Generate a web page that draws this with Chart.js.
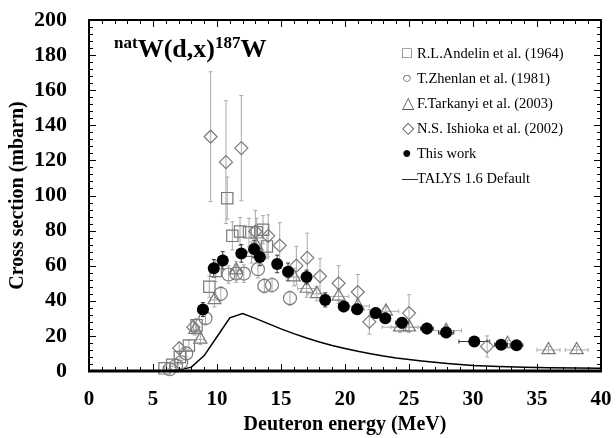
<!DOCTYPE html>
<html lang="en">
<head>
    <meta charset="UTF-8">
    <title>natW(d,x)187W cross section</title>
    <script src="https://cdn.jsdelivr.net/npm/chart.js"></script>
    <style>
        body { margin: 0; background: #fff; }
        .wrap { position: relative; width: 616px; height: 438px; font-family: 'Liberation Serif', 'Times New Roman', serif; }
        .reaction { position: absolute; left: 114px; top: 34px; font-weight: bold; font-size: 26px; }
        .reaction sup { font-size: 17px; vertical-align: 9px; line-height: 0; }
        .legend { position: absolute; left: 402px; top: 41px; font-size: 14.5px; white-space: nowrap; }
        .legend div { height: 25px; line-height: 25px; }
        .legend span.sym { display: inline-block; width: 15px; color: #555; font-size: 16px; line-height: 1; }
    </style>
</head>
<body>
    <div class="wrap">
        <canvas id="xsChart" width="616" height="438"></canvas>
        <div class="reaction"><sup>nat</sup>W(d,x)<sup>187</sup>W</div>
        <div class="legend">
            <div><span class="sym">□</span>R.L.Andelin et al. (1964)</div>
            <div><span class="sym">○</span>T.Zhenlan et al. (1981)</div>
            <div><span class="sym">△</span>F.Tarkanyi et al. (2003)</div>
            <div><span class="sym">◇</span>N.S. Ishioka et al. (2002)</div>
            <div><span class="sym" style="color:#000">●</span>This work</div>
            <div><span class="sym" style="color:#000">—</span>TALYS 1.6 Default</div>
        </div>
    </div>

    <script>
        // Andelin 1964
        const andelinE   = [5.9, 6.5, 7.1, 7.8, 8.4, 9.4, 9.9, 10.8, 11.2, 11.8, 12.5, 13.1, 13.6, 13.9];
        const andelinY   = [1.5, 3.5, 8, 14.5, 26, 48, 57, 98.5, 77, 79.5, 79, 79, 80.5, 71];
        const andelinErr = [1, 1, 2, 3, 4, 6, 6, 12, 8, 8, 8, 8, 8, 7];

        // Zhenlan 1981
        const zhenlanE   = [6.3, 6.8, 7.2, 7.6, 9.1, 10.3, 10.9, 11.5, 12.1, 13.2, 13.7, 14.3, 15.7];
        const zhenlanY   = [1, 3, 5, 10, 30, 44, 55, 55.5, 55.5, 58, 48.5, 49, 41.5];
        const zhenlanErr = [0.5, 1, 1, 2, 3, 4, 5, 5, 5, 5, 4, 4, 4];

        // Tarkanyi 2003
        const tarkanyiE    = [8.3, 8.7, 9.8, 11.5, 12.7, 13.1, 16.0, 17.0, 17.8, 19.5, 21.0, 23.2, 24.3, 25.0, 27.9, 32.7, 35.9, 38.1];
        const tarkanyiY    = [23.5, 18, 40.5, 57.5, 67.5, 71, 53.5, 47, 44, 42.5, 37, 34, 25, 25, 23, 15.5, 12, 12];
        const tarkanyiErr  = [3, 3, 4, 5, 6, 6, 5, 5, 4, 4, 4, 3, 3, 3, 3, 2, 2, 2];
        const tarkanyiErrE = [0.3, 0.3, 0.3, 0.4, 0.4, 0.4, 0.6, 0.7, 0.7, 0.8, 0.9, 1.0, 1.4, 1.4, 1.2, 1.0, 0.9, 0.9];

        // Ishioka 2002
        const ishiokaE   = [7.05, 8.15, 9.5, 10.7, 11.9, 13.0, 14.0, 14.9, 16.2, 17.05, 18.05, 19.5, 21.0, 21.9, 25.0, 31.1];
        const ishiokaY   = [13, 25, 133.5, 119, 127, 79.5, 77, 71.5, 60, 64.5, 54, 50, 45, 28, 33, 14];
        const ishiokaErr = [3, 4, 37, 35, 30, 12, 12, 13, 11, 14, 10, 10, 10, 7, 10.5, 6];

        // This work
        const thisE    = [8.9, 9.75, 10.45, 11.9, 12.9, 13.35, 14.7, 15.55, 17.0, 18.45, 19.9, 20.95, 22.4, 23.15, 24.45, 26.4, 27.9, 30.1, 32.2, 33.4];
        const thisY    = [35, 58.5, 63, 67, 69.5, 65, 61, 56.5, 53.5, 40.5, 36.8, 35.2, 33, 30, 27.5, 24.2, 22, 16.8, 14.9, 14.7];
        const thisErr  = [4, 5, 5, 5, 5, 5, 5, 5, 4, 4, 3, 3, 3, 3, 3, 3, 3, 2, 2, 2];
        const thisErrE = [0.4, 0.3, 0.3, 0.3, 0.3, 0.3, 0.3, 0.3, 0.3, 0.3, 0.4, 0.4, 0.4, 0.4, 0.5, 0.5, 0.6, 1.2, 0.5, 0.5];

        // TALYS 1.6 default
        const talysE = [6, 7, 8, 9, 10, 11, 12, 13, 14, 15, 16, 17, 18, 19, 20, 21, 22, 23, 24, 25, 26, 27, 28, 29, 30, 32, 34, 36, 38, 40];
        const talysY = [0, 0.5, 2.2, 8.8, 19.5, 30.3, 32.8, 30, 27, 24, 21.3, 18.8, 16.5, 14.5, 12.8, 11.2, 9.8, 8.5, 7.4, 6.5, 5.7, 5, 4.3, 3.7, 3.2, 2.6, 2.2, 1.9, 1.7, 1.5];

        const xTicks = [0, 5, 10, 15, 20, 25, 30, 35, 40];
        const yTicks = [0, 20, 40, 60, 80, 100, 120, 140, 160, 180, 200];

        const pts = (xs, ys) => xs.map((x, i) => ({ x: x, y: ys[i] }));
        const gray = '#7a7a7a';

        const errorBars = {
            id: 'errorBars',
            beforeDatasetsDraw(chart) {
                const { ctx, scales: { x, y } } = chart;
                ctx.save();
                ctx.lineWidth = 1;
                chart.data.datasets.forEach(ds => {
                    if (!ds.errY) return;
                    ctx.strokeStyle = ds.errColor || '#aaa';
                    ds.data.forEach((p, i) => {
                        const px = x.getPixelForValue(p.x);
                        const py = y.getPixelForValue(p.y);
                        const ey = ds.errY[i] || 0;
                        const ex = ds.errX ? (ds.errX[i] || 0) : 0;
                        ctx.beginPath();
                        if (ey) {
                            const t = y.getPixelForValue(p.y + ey);
                            const b = y.getPixelForValue(Math.max(0, p.y - ey));
                            ctx.moveTo(px, t); ctx.lineTo(px, b);
                            ctx.moveTo(px - 2, t); ctx.lineTo(px + 2, t);
                            ctx.moveTo(px - 2, b); ctx.lineTo(px + 2, b);
                        }
                        if (ex) {
                            const l = x.getPixelForValue(p.x - ex);
                            const r = x.getPixelForValue(p.x + ex);
                            ctx.moveTo(l, py); ctx.lineTo(r, py);
                            ctx.moveTo(l, py - 2); ctx.lineTo(l, py + 2);
                            ctx.moveTo(r, py - 2); ctx.lineTo(r, py + 2);
                        }
                        ctx.stroke();
                    });
                });
                ctx.restore();
            }
        };

        // frame with inward ticks on all four sides
        const frame = {
            id: 'frame',
            afterDraw(chart) {
                const { ctx, chartArea: a, scales: { x, y } } = chart;
                ctx.save();
                ctx.strokeStyle = '#000';
                ctx.lineWidth = 1;
                ctx.beginPath();
                for (let v = 0; v <= 40; v++) {
                    const px = Math.round(x.getPixelForValue(v)) + 0.5;
                    const len = v % 5 === 0 ? 7 : 4;
                    ctx.moveTo(px, a.bottom); ctx.lineTo(px, a.bottom - len);
                    ctx.moveTo(px, a.top); ctx.lineTo(px, a.top + len);
                }
                for (let v = 0; v <= 200; v += 4) {
                    const py = Math.round(y.getPixelForValue(v)) + 0.5;
                    const len = v % 20 === 0 ? 7 : 4;
                    ctx.moveTo(a.left, py); ctx.lineTo(a.left + len, py);
                    ctx.moveTo(a.right, py); ctx.lineTo(a.right - len, py);
                }
                ctx.stroke();
                ctx.lineWidth = 2;
                ctx.strokeRect(a.left, a.top, a.right - a.left, a.bottom - a.top);
                ctx.lineWidth = 3;
                ctx.beginPath();
                ctx.moveTo(a.left - 1, a.bottom); ctx.lineTo(a.right + 1, a.bottom);
                ctx.stroke();
                ctx.restore();
            }
        };

        const serif = "'Liberation Serif', 'Times New Roman', serif";

        new Chart(document.getElementById('xsChart'), {
            type: 'scatter',
            data: {
                datasets: [
                    {
                        label: 'TALYS 1.6 Default',
                        type: 'line',
                        data: pts(talysE, talysY),
                        borderColor: '#000',
                        borderWidth: 1.5,
                        pointRadius: 0,
                        tension: 0,
                        fill: false,
                        order: 5
                    },
                    {
                        label: 'R.L.Andelin et al. (1964)',
                        data: pts(andelinE, andelinY),
                        errY: andelinErr,
                        pointStyle: 'rect',
                        pointRadius: 8,
                        borderColor: gray,
                        backgroundColor: 'rgba(0,0,0,0)',
                        borderWidth: 1.2,
                        clip: false,
                        order: 4
                    },
                    {
                        label: 'T.Zhenlan et al. (1981)',
                        data: pts(zhenlanE, zhenlanY),
                        errY: zhenlanErr,
                        pointStyle: 'circle',
                        pointRadius: 6.5,
                        borderColor: gray,
                        backgroundColor: 'rgba(0,0,0,0)',
                        borderWidth: 1.2,
                        clip: false,
                        order: 4
                    },
                    {
                        label: 'F.Tarkanyi et al. (2003)',
                        data: pts(tarkanyiE, tarkanyiY),
                        errY: tarkanyiErr,
                        errX: tarkanyiErrE,
                        pointStyle: 'triangle',
                        pointRadius: 7.5,
                        borderColor: gray,
                        backgroundColor: 'rgba(0,0,0,0)',
                        borderWidth: 1.2,
                        clip: false,
                        order: 4
                    },
                    {
                        label: 'N.S. Ishioka et al. (2002)',
                        data: pts(ishiokaE, ishiokaY),
                        errY: ishiokaErr,
                        pointStyle: 'rectRot',
                        pointRadius: 6.5,
                        borderColor: gray,
                        backgroundColor: 'rgba(0,0,0,0)',
                        borderWidth: 1.2,
                        clip: false,
                        order: 4
                    },
                    {
                        label: 'This work',
                        data: pts(thisE, thisY),
                        errY: thisErr,
                        errX: thisErrE,
                        errColor: '#333',
                        pointStyle: 'circle',
                        pointRadius: 6,
                        borderColor: '#000',
                        backgroundColor: '#000',
                        borderWidth: 0,
                        clip: false,
                        order: 1
                    }
                ]
            },
            options: {
                responsive: false,
                animation: false,
                events: [],
                layout: { padding: { top: 20, right: 15, left: 6, bottom: 1 } },
                plugins: {
                    legend: { display: false },
                    tooltip: { enabled: false }
                },
                scales: {
                    x: {
                        type: 'linear',
                        min: 0,
                        max: 40,
                        afterBuildTicks: s => { s.ticks = xTicks.map(v => ({ value: v })); },
                        afterFit: s => { s.height = 66; s.paddingLeft = 0; s.paddingRight = 0; },
                        grid: { display: false },
                        border: { display: false },
                        ticks: {
                            color: '#000',
                            padding: 8,
                            font: { family: serif, size: 21, weight: 'bold' }
                        },
                        title: {
                            display: true,
                            text: 'Deuteron energy (MeV)',
                            color: '#000',
                            padding: { top: 0, bottom: 0 },
                            font: { family: serif, size: 20, weight: 'bold' }
                        }
                    },
                    y: {
                        type: 'linear',
                        min: 0,
                        max: 200,
                        afterBuildTicks: s => { s.ticks = yTicks.map(v => ({ value: v })); },
                        afterFit: s => { s.width = 83; s.paddingTop = 0; s.paddingBottom = 0; },
                        grid: { display: false },
                        border: { display: false },
                        ticks: {
                            color: '#000',
                            padding: 14,
                            font: { family: serif, size: 22, weight: 'bold' }
                        },
                        title: {
                            display: true,
                            text: 'Cross section (mbarn)',
                            color: '#000',
                            padding: { top: 0, bottom: 0 },
                            font: { family: serif, size: 20, weight: 'bold' }
                        }
                    }
                }
            },
            plugins: [errorBars, frame]
        });
    </script>
</body>
</html>
